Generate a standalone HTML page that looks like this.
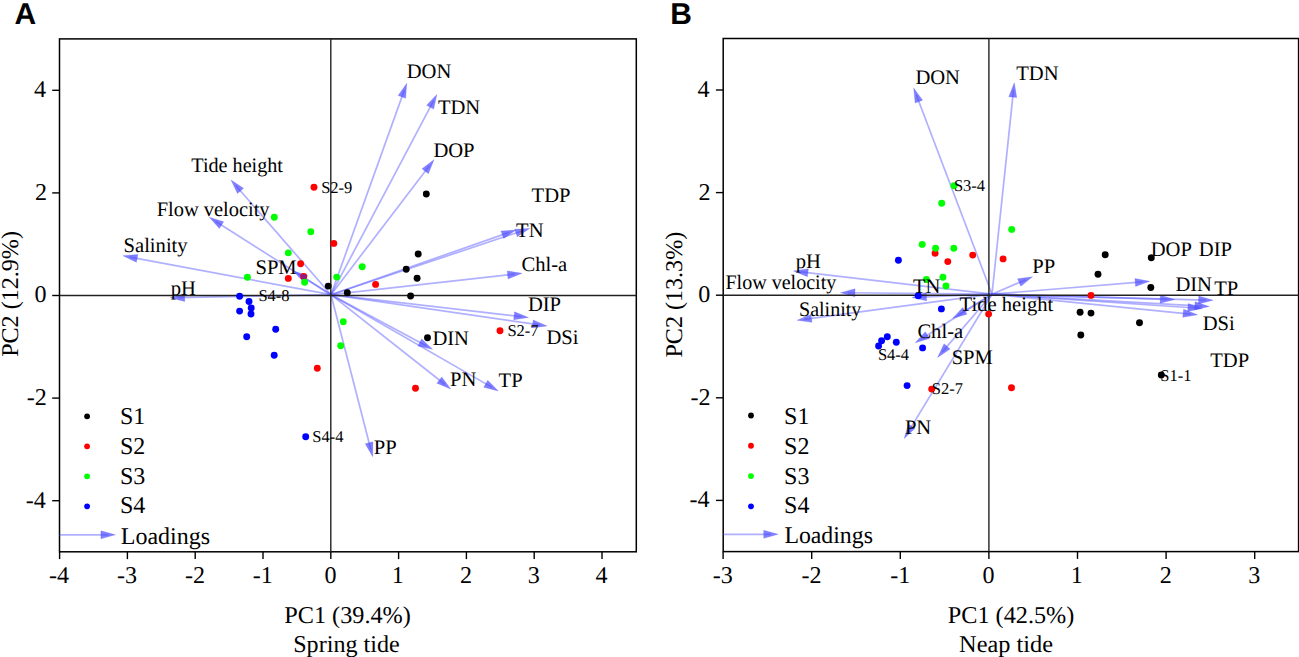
<!DOCTYPE html>
<html><head><meta charset="utf-8"><style>
html,body{margin:0;padding:0;background:#fff;width:1299px;height:657px;overflow:hidden}
svg{display:block}
text{fill:#000;text-rendering:geometricPrecision}
</style></head><body>
<svg width="1299" height="657" viewBox="0 0 1299 657">
<rect width="1299" height="657" fill="#fff"/>
<text x="14.50" y="24.00" font-size="30" font-family='"Liberation Sans", sans-serif' font-weight="bold">A</text>
<rect x="59.5" y="38.9" width="576.80" height="512.90" fill="none" stroke="#000" stroke-width="1.5"/>
<line x1="59.60" y1="551.8" x2="59.60" y2="559.10" stroke="#000" stroke-width="1.4"/>
<text x="48.90" y="582.50" font-size="24.1" font-family='"Liberation Serif", serif'>-4</text>
<line x1="127.40" y1="551.8" x2="127.40" y2="559.10" stroke="#000" stroke-width="1.4"/>
<text x="117.00" y="582.50" font-size="24.1" font-family='"Liberation Serif", serif'>-3</text>
<line x1="195.20" y1="551.8" x2="195.20" y2="559.10" stroke="#000" stroke-width="1.4"/>
<text x="184.98" y="582.50" font-size="24.1" font-family='"Liberation Serif", serif'>-2</text>
<line x1="263.00" y1="551.8" x2="263.00" y2="559.10" stroke="#000" stroke-width="1.4"/>
<text x="252.84" y="582.50" font-size="24.1" font-family='"Liberation Serif", serif'>-1</text>
<line x1="330.80" y1="551.8" x2="330.80" y2="559.10" stroke="#000" stroke-width="1.4"/>
<text x="324.38" y="582.50" font-size="24.1" font-family='"Liberation Serif", serif'>0</text>
<line x1="398.60" y1="551.8" x2="398.60" y2="559.10" stroke="#000" stroke-width="1.4"/>
<text x="391.87" y="582.50" font-size="24.1" font-family='"Liberation Serif", serif'>1</text>
<line x1="466.40" y1="551.8" x2="466.40" y2="559.10" stroke="#000" stroke-width="1.4"/>
<text x="460.10" y="582.50" font-size="24.1" font-family='"Liberation Serif", serif'>2</text>
<line x1="534.20" y1="551.8" x2="534.20" y2="559.10" stroke="#000" stroke-width="1.4"/>
<text x="527.71" y="582.50" font-size="24.1" font-family='"Liberation Serif", serif'>3</text>
<line x1="602.00" y1="551.8" x2="602.00" y2="559.10" stroke="#000" stroke-width="1.4"/>
<text x="595.51" y="582.50" font-size="24.1" font-family='"Liberation Serif", serif'>4</text>
<line x1="52.20" y1="90.30" x2="59.5" y2="90.30" stroke="#000" stroke-width="1.4"/>
<text x="33.91" y="97.20" font-size="24.1" font-family='"Liberation Serif", serif'>4</text>
<line x1="52.20" y1="192.90" x2="59.5" y2="192.90" stroke="#000" stroke-width="1.4"/>
<text x="34.88" y="199.80" font-size="24.1" font-family='"Liberation Serif", serif'>2</text>
<line x1="52.20" y1="295.50" x2="59.5" y2="295.50" stroke="#000" stroke-width="1.4"/>
<text x="34.51" y="302.40" font-size="24.1" font-family='"Liberation Serif", serif'>0</text>
<line x1="52.20" y1="398.10" x2="59.5" y2="398.10" stroke="#000" stroke-width="1.4"/>
<text x="26.80" y="405.00" font-size="24.1" font-family='"Liberation Serif", serif'>-2</text>
<line x1="52.20" y1="500.70" x2="59.5" y2="500.70" stroke="#000" stroke-width="1.4"/>
<text x="25.84" y="507.60" font-size="24.1" font-family='"Liberation Serif", serif'>-4</text>
<line x1="331.00" y1="294.70" x2="404.35" y2="90.12" stroke="#5a5aff" stroke-opacity="0.48" stroke-width="1.7"/>
<polygon points="406.80,83.30 405.67,98.30 398.14,95.60" fill="#4646ff" fill-opacity="0.68" stroke="#4646ff" stroke-opacity="0.35" stroke-width="0.6" stroke-linejoin="round" stroke-linejoin="miter"/>
<line x1="331.00" y1="294.70" x2="433.51" y2="100.81" stroke="#5a5aff" stroke-opacity="0.48" stroke-width="1.7"/>
<polygon points="436.90,94.40 433.66,109.09 426.59,105.35" fill="#4646ff" fill-opacity="0.68" stroke="#4646ff" stroke-opacity="0.35" stroke-width="0.6" stroke-linejoin="round" stroke-linejoin="miter"/>
<line x1="331.00" y1="294.70" x2="429.60" y2="165.46" stroke="#5a5aff" stroke-opacity="0.48" stroke-width="1.7"/>
<polygon points="434.00,159.70 428.38,173.65 422.02,168.80" fill="#4646ff" fill-opacity="0.68" stroke="#4646ff" stroke-opacity="0.35" stroke-width="0.6" stroke-linejoin="round" stroke-linejoin="miter"/>
<line x1="331.00" y1="294.70" x2="522.82" y2="230.69" stroke="#5a5aff" stroke-opacity="0.48" stroke-width="1.7"/>
<polygon points="529.70,228.40 517.21,236.78 514.68,229.20" fill="#4646ff" fill-opacity="0.68" stroke="#4646ff" stroke-opacity="0.35" stroke-width="0.6" stroke-linejoin="round" stroke-linejoin="miter"/>
<line x1="331.00" y1="294.70" x2="509.16" y2="232.39" stroke="#5a5aff" stroke-opacity="0.48" stroke-width="1.7"/>
<polygon points="516.00,230.00 503.63,238.56 500.99,231.01" fill="#4646ff" fill-opacity="0.68" stroke="#4646ff" stroke-opacity="0.35" stroke-width="0.6" stroke-linejoin="round" stroke-linejoin="miter"/>
<line x1="331.00" y1="294.70" x2="514.80" y2="274.11" stroke="#5a5aff" stroke-opacity="0.48" stroke-width="1.7"/>
<polygon points="522.00,273.30 508.04,278.89 507.14,270.94" fill="#4646ff" fill-opacity="0.68" stroke="#4646ff" stroke-opacity="0.35" stroke-width="0.6" stroke-linejoin="round" stroke-linejoin="miter"/>
<line x1="331.00" y1="294.70" x2="521.30" y2="316.67" stroke="#5a5aff" stroke-opacity="0.48" stroke-width="1.7"/>
<polygon points="528.50,317.50 513.64,319.81 514.55,311.86" fill="#4646ff" fill-opacity="0.68" stroke="#4646ff" stroke-opacity="0.35" stroke-width="0.6" stroke-linejoin="round" stroke-linejoin="miter"/>
<line x1="331.00" y1="294.70" x2="539.82" y2="324.96" stroke="#5a5aff" stroke-opacity="0.48" stroke-width="1.7"/>
<polygon points="547.00,326.00 532.08,327.88 533.22,319.96" fill="#4646ff" fill-opacity="0.68" stroke="#4646ff" stroke-opacity="0.35" stroke-width="0.6" stroke-linejoin="round" stroke-linejoin="miter"/>
<line x1="331.00" y1="294.70" x2="426.12" y2="345.87" stroke="#5a5aff" stroke-opacity="0.48" stroke-width="1.7"/>
<polygon points="432.50,349.30 417.84,345.95 421.63,338.91" fill="#4646ff" fill-opacity="0.68" stroke="#4646ff" stroke-opacity="0.35" stroke-width="0.6" stroke-linejoin="round" stroke-linejoin="miter"/>
<line x1="331.00" y1="294.70" x2="445.00" y2="384.51" stroke="#5a5aff" stroke-opacity="0.48" stroke-width="1.7"/>
<polygon points="450.70,389.00 436.83,383.17 441.79,376.88" fill="#4646ff" fill-opacity="0.68" stroke="#4646ff" stroke-opacity="0.35" stroke-width="0.6" stroke-linejoin="round" stroke-linejoin="miter"/>
<line x1="331.00" y1="294.70" x2="492.02" y2="387.38" stroke="#5a5aff" stroke-opacity="0.48" stroke-width="1.7"/>
<polygon points="498.30,391.00 483.74,387.23 487.73,380.30" fill="#4646ff" fill-opacity="0.68" stroke="#4646ff" stroke-opacity="0.35" stroke-width="0.6" stroke-linejoin="round" stroke-linejoin="miter"/>
<line x1="331.00" y1="294.70" x2="370.89" y2="449.68" stroke="#5a5aff" stroke-opacity="0.48" stroke-width="1.7"/>
<polygon points="372.70,456.70 365.21,443.65 372.96,441.66" fill="#4646ff" fill-opacity="0.68" stroke="#4646ff" stroke-opacity="0.35" stroke-width="0.6" stroke-linejoin="round" stroke-linejoin="miter"/>
<line x1="331.00" y1="294.70" x2="235.76" y2="185.46" stroke="#5a5aff" stroke-opacity="0.48" stroke-width="1.7"/>
<polygon points="231.00,180.00 243.54,188.30 237.51,193.56" fill="#4646ff" fill-opacity="0.68" stroke="#4646ff" stroke-opacity="0.35" stroke-width="0.6" stroke-linejoin="round" stroke-linejoin="miter"/>
<line x1="331.00" y1="294.70" x2="215.42" y2="221.19" stroke="#5a5aff" stroke-opacity="0.48" stroke-width="1.7"/>
<polygon points="209.30,217.30 223.68,221.71 219.39,228.46" fill="#4646ff" fill-opacity="0.68" stroke="#4646ff" stroke-opacity="0.35" stroke-width="0.6" stroke-linejoin="round" stroke-linejoin="miter"/>
<line x1="331.00" y1="294.70" x2="130.03" y2="257.04" stroke="#5a5aff" stroke-opacity="0.48" stroke-width="1.7"/>
<polygon points="122.90,255.70 137.89,254.44 136.42,262.30" fill="#4646ff" fill-opacity="0.68" stroke="#4646ff" stroke-opacity="0.35" stroke-width="0.6" stroke-linejoin="round" stroke-linejoin="miter"/>
<line x1="331.00" y1="294.70" x2="299.43" y2="274.77" stroke="#5a5aff" stroke-opacity="0.48" stroke-width="1.7"/>
<polygon points="293.30,270.90 307.70,275.26 303.43,282.02" fill="#4646ff" fill-opacity="0.68" stroke="#4646ff" stroke-opacity="0.35" stroke-width="0.6" stroke-linejoin="round" stroke-linejoin="miter"/>
<line x1="331.00" y1="294.70" x2="177.45" y2="297.56" stroke="#5a5aff" stroke-opacity="0.48" stroke-width="1.7"/>
<polygon points="170.20,297.70 184.62,293.43 184.77,301.43" fill="#4646ff" fill-opacity="0.68" stroke="#4646ff" stroke-opacity="0.35" stroke-width="0.6" stroke-linejoin="round" stroke-linejoin="miter"/>
<line x1="330.8" y1="38.9" x2="330.8" y2="551.8" stroke="#222" stroke-width="1.4"/>
<line x1="59.5" y1="295.5" x2="636.3" y2="295.5" stroke="#222" stroke-width="1.4"/>
<circle cx="426.3" cy="194" r="3.45" fill="#000"/>
<circle cx="418.2" cy="254" r="3.45" fill="#000"/>
<circle cx="406.2" cy="269.3" r="3.45" fill="#000"/>
<circle cx="417.1" cy="278.2" r="3.45" fill="#000"/>
<circle cx="328.2" cy="286.1" r="3.45" fill="#000"/>
<circle cx="347.3" cy="292.7" r="3.45" fill="#000"/>
<circle cx="410.6" cy="296" r="3.45" fill="#000"/>
<circle cx="427.5" cy="337.7" r="3.45" fill="#000"/>
<circle cx="314" cy="187.3" r="3.45" fill="#f00"/>
<circle cx="333.8" cy="243.4" r="3.45" fill="#f00"/>
<circle cx="300.6" cy="263.8" r="3.45" fill="#f00"/>
<circle cx="288.3" cy="278.4" r="3.45" fill="#f00"/>
<circle cx="303.7" cy="276.5" r="3.45" fill="#f00"/>
<circle cx="375.6" cy="284.4" r="3.45" fill="#f00"/>
<circle cx="500" cy="330.7" r="3.45" fill="#f00"/>
<circle cx="317.3" cy="368.3" r="3.45" fill="#f00"/>
<circle cx="415.5" cy="388.3" r="3.45" fill="#f00"/>
<circle cx="274.3" cy="217.2" r="3.45" fill="#0f0"/>
<circle cx="310.8" cy="231.7" r="3.45" fill="#0f0"/>
<circle cx="288.3" cy="252.9" r="3.45" fill="#0f0"/>
<circle cx="247.4" cy="277.3" r="3.45" fill="#0f0"/>
<circle cx="304.6" cy="282.2" r="3.45" fill="#0f0"/>
<circle cx="336.7" cy="277.1" r="3.45" fill="#0f0"/>
<circle cx="362.2" cy="266.7" r="3.45" fill="#0f0"/>
<circle cx="343.3" cy="321.7" r="3.45" fill="#0f0"/>
<circle cx="340.7" cy="345.7" r="3.45" fill="#0f0"/>
<circle cx="303.7" cy="276.5" r="2.6" fill="#3030ff" fill-opacity="0.55"/>
<circle cx="239.6" cy="296.2" r="3.45" fill="#00f"/>
<circle cx="249" cy="301.5" r="3.45" fill="#00f"/>
<circle cx="239.6" cy="311.1" r="3.45" fill="#00f"/>
<circle cx="251.2" cy="308" r="3.45" fill="#00f"/>
<circle cx="251" cy="314" r="3.45" fill="#00f"/>
<circle cx="275.7" cy="329.3" r="3.45" fill="#00f"/>
<circle cx="246.7" cy="336.7" r="3.45" fill="#00f"/>
<circle cx="274.2" cy="355.2" r="3.45" fill="#00f"/>
<circle cx="305.7" cy="436.7" r="3.45" fill="#00f"/>
<text x="406.68" y="78.00" font-size="20.6" font-family='"Liberation Serif", serif'>DON</text>
<text x="437.89" y="114.00" font-size="20.6" font-family='"Liberation Serif", serif'>TDN</text>
<text x="433.38" y="157.00" font-size="20.6" font-family='"Liberation Serif", serif'>DOP</text>
<text x="531.59" y="201.70" font-size="20.6" font-family='"Liberation Serif", serif'>TDP</text>
<text x="516.09" y="236.70" font-size="20.6" font-family='"Liberation Serif", serif'>TN</text>
<text x="521.48" y="270.70" font-size="20.6" font-family='"Liberation Serif", serif'>Chl-a</text>
<text x="527.88" y="310.50" font-size="20.6" font-family='"Liberation Serif", serif'>DIP</text>
<text x="546.38" y="344.00" font-size="20.6" font-family='"Liberation Serif", serif'>DSi</text>
<text x="432.38" y="345.00" font-size="20.6" font-family='"Liberation Serif", serif'>DIN</text>
<text x="450.08" y="385.70" font-size="20.6" font-family='"Liberation Serif", serif'>PN</text>
<text x="498.59" y="387.30" font-size="20.6" font-family='"Liberation Serif", serif'>TP</text>
<text x="373.68" y="454.00" font-size="20.6" font-family='"Liberation Serif", serif'>PP</text>
<text transform="translate(191.70,172.30) scale(0.9785,1)" x="-0.41" y="0" font-size="20.6" font-family='"Liberation Serif", serif'>Tide height</text>
<text transform="translate(157.30,216.00) scale(0.9911,1)" x="-0.62" y="0" font-size="20.6" font-family='"Liberation Serif", serif'>Flow velocity</text>
<text x="123.56" y="251.90" font-size="20.6" font-family='"Liberation Serif", serif'>Salinity</text>
<text x="255.46" y="273.70" font-size="20.6" font-family='"Liberation Serif", serif'>SPM</text>
<text x="170.79" y="294.50" font-size="20.6" font-family='"Liberation Serif", serif'>pH</text>
<text x="321.13" y="192.70" font-size="16.5" font-family='"Liberation Serif", serif'>S2-9</text>
<text x="258.43" y="300.90" font-size="16.5" font-family='"Liberation Serif", serif'>S4-8</text>
<text x="507.43" y="335.70" font-size="16.5" font-family='"Liberation Serif", serif'>S2-7</text>
<text x="312.23" y="441.70" font-size="16.5" font-family='"Liberation Serif", serif'>S4-4</text>
<circle cx="87.1" cy="416.30" r="2.9" fill="#000"/>
<text x="119.94" y="423.80" font-size="24" font-family='"Liberation Serif", serif'>S1</text>
<circle cx="87.1" cy="446.30" r="2.9" fill="#f00"/>
<text x="119.94" y="453.65" font-size="24" font-family='"Liberation Serif", serif'>S2</text>
<circle cx="87.1" cy="476.30" r="2.9" fill="#0f0"/>
<text x="119.94" y="483.50" font-size="24" font-family='"Liberation Serif", serif'>S3</text>
<circle cx="87.1" cy="506.30" r="2.9" fill="#00f"/>
<text x="119.94" y="513.35" font-size="24" font-family='"Liberation Serif", serif'>S4</text>
<line x1="59.50" y1="534.80" x2="108.15" y2="534.80" stroke="#5a5aff" stroke-opacity="0.48" stroke-width="1.7"/>
<polygon points="115.40,534.80 100.90,538.80 100.90,530.80" fill="#4646ff" fill-opacity="0.68" stroke="#4646ff" stroke-opacity="0.35" stroke-width="0.6" stroke-linejoin="round" stroke-linejoin="miter"/>
<text x="120.78" y="543.70" font-size="24" font-family='"Liberation Serif", serif'>Loadings</text>
<text transform="translate(285.00,622.70) scale(1.0056,1)" x="-0.72" y="0" font-size="24.1" font-family='"Liberation Serif", serif'>PC1 (39.4%)</text>
<text x="293.23" y="652.40" font-size="24.1" font-family='"Liberation Serif", serif'>Spring tide</text>
<g transform="translate(17.5,294.1) rotate(-90)">
<text x="-62.78" y="0.00" font-size="24.1" font-family='"Liberation Serif", serif'>PC2 (12.9%)</text>
</g>
<text x="670.25" y="24.20" font-size="30" font-family='"Liberation Sans", sans-serif' font-weight="bold">B</text>
<rect x="723.2" y="38.5" width="575.40" height="513.10" fill="none" stroke="#000" stroke-width="1.5"/>
<line x1="723.10" y1="551.6" x2="723.10" y2="558.90" stroke="#000" stroke-width="1.4"/>
<text x="712.70" y="582.50" font-size="24.1" font-family='"Liberation Serif", serif'>-3</text>
<line x1="811.70" y1="551.6" x2="811.70" y2="558.90" stroke="#000" stroke-width="1.4"/>
<text x="801.48" y="582.50" font-size="24.1" font-family='"Liberation Serif", serif'>-2</text>
<line x1="900.30" y1="551.6" x2="900.30" y2="558.90" stroke="#000" stroke-width="1.4"/>
<text x="890.14" y="582.50" font-size="24.1" font-family='"Liberation Serif", serif'>-1</text>
<line x1="988.90" y1="551.6" x2="988.90" y2="558.90" stroke="#000" stroke-width="1.4"/>
<text x="982.48" y="582.50" font-size="24.1" font-family='"Liberation Serif", serif'>0</text>
<line x1="1077.50" y1="551.6" x2="1077.50" y2="558.90" stroke="#000" stroke-width="1.4"/>
<text x="1070.77" y="582.50" font-size="24.1" font-family='"Liberation Serif", serif'>1</text>
<line x1="1166.10" y1="551.6" x2="1166.10" y2="558.90" stroke="#000" stroke-width="1.4"/>
<text x="1159.80" y="582.50" font-size="24.1" font-family='"Liberation Serif", serif'>2</text>
<line x1="1254.70" y1="551.6" x2="1254.70" y2="558.90" stroke="#000" stroke-width="1.4"/>
<text x="1248.21" y="582.50" font-size="24.1" font-family='"Liberation Serif", serif'>3</text>
<line x1="715.90" y1="90.00" x2="723.2" y2="90.00" stroke="#000" stroke-width="1.4"/>
<text x="697.61" y="96.90" font-size="24.1" font-family='"Liberation Serif", serif'>4</text>
<line x1="715.90" y1="192.60" x2="723.2" y2="192.60" stroke="#000" stroke-width="1.4"/>
<text x="698.58" y="199.50" font-size="24.1" font-family='"Liberation Serif", serif'>2</text>
<line x1="715.90" y1="295.20" x2="723.2" y2="295.20" stroke="#000" stroke-width="1.4"/>
<text x="698.21" y="302.10" font-size="24.1" font-family='"Liberation Serif", serif'>0</text>
<line x1="715.90" y1="397.80" x2="723.2" y2="397.80" stroke="#000" stroke-width="1.4"/>
<text x="690.50" y="404.70" font-size="24.1" font-family='"Liberation Serif", serif'>-2</text>
<line x1="715.90" y1="500.40" x2="723.2" y2="500.40" stroke="#000" stroke-width="1.4"/>
<text x="689.54" y="507.30" font-size="24.1" font-family='"Liberation Serif", serif'>-4</text>
<line x1="992.00" y1="294.20" x2="916.27" y2="94.78" stroke="#5a5aff" stroke-opacity="0.48" stroke-width="1.7"/>
<polygon points="913.70,88.00 922.59,100.14 915.11,102.98" fill="#4646ff" fill-opacity="0.68" stroke="#4646ff" stroke-opacity="0.35" stroke-width="0.6" stroke-linejoin="round" stroke-linejoin="miter"/>
<line x1="992.00" y1="294.20" x2="1013.54" y2="89.91" stroke="#5a5aff" stroke-opacity="0.48" stroke-width="1.7"/>
<polygon points="1014.30,82.70 1016.76,97.54 1008.80,96.70" fill="#4646ff" fill-opacity="0.68" stroke="#4646ff" stroke-opacity="0.35" stroke-width="0.6" stroke-linejoin="round" stroke-linejoin="miter"/>
<line x1="992.00" y1="294.20" x2="800.70" y2="271.84" stroke="#5a5aff" stroke-opacity="0.48" stroke-width="1.7"/>
<polygon points="793.50,271.00 808.37,268.71 807.44,276.66" fill="#4646ff" fill-opacity="0.68" stroke="#4646ff" stroke-opacity="0.35" stroke-width="0.6" stroke-linejoin="round" stroke-linejoin="miter"/>
<line x1="992.00" y1="294.20" x2="847.75" y2="292.77" stroke="#5a5aff" stroke-opacity="0.48" stroke-width="1.7"/>
<polygon points="840.50,292.70 855.04,288.84 854.96,296.84" fill="#4646ff" fill-opacity="0.68" stroke="#4646ff" stroke-opacity="0.35" stroke-width="0.6" stroke-linejoin="round" stroke-linejoin="miter"/>
<line x1="992.00" y1="294.20" x2="804.29" y2="319.34" stroke="#5a5aff" stroke-opacity="0.48" stroke-width="1.7"/>
<polygon points="797.10,320.30 810.94,314.41 812.00,322.34" fill="#4646ff" fill-opacity="0.68" stroke="#4646ff" stroke-opacity="0.35" stroke-width="0.6" stroke-linejoin="round" stroke-linejoin="miter"/>
<line x1="992.00" y1="294.20" x2="919.24" y2="297.11" stroke="#5a5aff" stroke-opacity="0.48" stroke-width="1.7"/>
<polygon points="912.00,297.40 926.33,292.82 926.65,300.82" fill="#4646ff" fill-opacity="0.68" stroke="#4646ff" stroke-opacity="0.35" stroke-width="0.6" stroke-linejoin="round" stroke-linejoin="miter"/>
<line x1="992.00" y1="294.20" x2="958.68" y2="314.61" stroke="#5a5aff" stroke-opacity="0.48" stroke-width="1.7"/>
<polygon points="952.50,318.40 962.77,307.41 966.95,314.24" fill="#4646ff" fill-opacity="0.68" stroke="#4646ff" stroke-opacity="0.35" stroke-width="0.6" stroke-linejoin="round" stroke-linejoin="miter"/>
<line x1="992.00" y1="294.20" x2="921.33" y2="338.92" stroke="#5a5aff" stroke-opacity="0.48" stroke-width="1.7"/>
<polygon points="915.20,342.80 925.31,331.67 929.59,338.43" fill="#4646ff" fill-opacity="0.68" stroke="#4646ff" stroke-opacity="0.35" stroke-width="0.6" stroke-linejoin="round" stroke-linejoin="miter"/>
<line x1="992.00" y1="294.20" x2="942.33" y2="351.91" stroke="#5a5aff" stroke-opacity="0.48" stroke-width="1.7"/>
<polygon points="937.60,357.40 944.03,343.80 950.09,349.02" fill="#4646ff" fill-opacity="0.68" stroke="#4646ff" stroke-opacity="0.35" stroke-width="0.6" stroke-linejoin="round" stroke-linejoin="miter"/>
<line x1="992.00" y1="294.20" x2="907.97" y2="432.41" stroke="#5a5aff" stroke-opacity="0.48" stroke-width="1.7"/>
<polygon points="904.20,438.60 908.32,424.13 915.15,428.29" fill="#4646ff" fill-opacity="0.68" stroke="#4646ff" stroke-opacity="0.35" stroke-width="0.6" stroke-linejoin="round" stroke-linejoin="miter"/>
<line x1="992.00" y1="294.20" x2="1025.84" y2="279.66" stroke="#5a5aff" stroke-opacity="0.48" stroke-width="1.7"/>
<polygon points="1032.50,276.80 1020.76,286.20 1017.60,278.85" fill="#4646ff" fill-opacity="0.68" stroke="#4646ff" stroke-opacity="0.35" stroke-width="0.6" stroke-linejoin="round" stroke-linejoin="miter"/>
<line x1="992.00" y1="294.20" x2="1142.47" y2="281.89" stroke="#5a5aff" stroke-opacity="0.48" stroke-width="1.7"/>
<polygon points="1149.70,281.30 1135.57,286.47 1134.92,278.50" fill="#4646ff" fill-opacity="0.68" stroke="#4646ff" stroke-opacity="0.35" stroke-width="0.6" stroke-linejoin="round" stroke-linejoin="miter"/>
<line x1="992.00" y1="294.20" x2="1167.45" y2="299.39" stroke="#5a5aff" stroke-opacity="0.48" stroke-width="1.7"/>
<polygon points="1174.70,299.60 1160.09,303.17 1160.32,295.17" fill="#4646ff" fill-opacity="0.68" stroke="#4646ff" stroke-opacity="0.35" stroke-width="0.6" stroke-linejoin="round" stroke-linejoin="miter"/>
<line x1="992.00" y1="294.20" x2="1205.85" y2="300.10" stroke="#5a5aff" stroke-opacity="0.48" stroke-width="1.7"/>
<polygon points="1213.10,300.30 1198.50,303.90 1198.72,295.90" fill="#4646ff" fill-opacity="0.68" stroke="#4646ff" stroke-opacity="0.35" stroke-width="0.6" stroke-linejoin="round" stroke-linejoin="miter"/>
<line x1="992.00" y1="294.20" x2="1202.06" y2="306.09" stroke="#5a5aff" stroke-opacity="0.48" stroke-width="1.7"/>
<polygon points="1209.30,306.50 1194.60,309.67 1195.05,301.69" fill="#4646ff" fill-opacity="0.68" stroke="#4646ff" stroke-opacity="0.35" stroke-width="0.6" stroke-linejoin="round" stroke-linejoin="miter"/>
<line x1="992.00" y1="294.20" x2="1195.17" y2="308.01" stroke="#5a5aff" stroke-opacity="0.48" stroke-width="1.7"/>
<polygon points="1202.40,308.50 1187.66,311.51 1188.20,303.53" fill="#4646ff" fill-opacity="0.68" stroke="#4646ff" stroke-opacity="0.35" stroke-width="0.6" stroke-linejoin="round" stroke-linejoin="miter"/>
<line x1="992.00" y1="294.20" x2="1190.39" y2="314.08" stroke="#5a5aff" stroke-opacity="0.48" stroke-width="1.7"/>
<polygon points="1197.60,314.80 1182.77,317.33 1183.57,309.37" fill="#4646ff" fill-opacity="0.68" stroke="#4646ff" stroke-opacity="0.35" stroke-width="0.6" stroke-linejoin="round" stroke-linejoin="miter"/>
<line x1="988.9" y1="38.5" x2="988.9" y2="551.6" stroke="#222" stroke-width="1.4"/>
<line x1="723.2" y1="295.2" x2="1298.6" y2="295.2" stroke="#222" stroke-width="1.4"/>
<circle cx="1105.2" cy="254.8" r="3.45" fill="#000"/>
<circle cx="1151.3" cy="257.8" r="3.45" fill="#000"/>
<circle cx="1098" cy="274.3" r="3.45" fill="#000"/>
<circle cx="1150.8" cy="287.5" r="3.45" fill="#000"/>
<circle cx="1080.1" cy="312.2" r="3.45" fill="#000"/>
<circle cx="1091" cy="313.1" r="3.45" fill="#000"/>
<circle cx="1139.5" cy="322.8" r="3.45" fill="#000"/>
<circle cx="1080.8" cy="335" r="3.45" fill="#000"/>
<circle cx="1161.3" cy="375" r="3.45" fill="#000"/>
<circle cx="972.7" cy="255.1" r="3.45" fill="#f00"/>
<circle cx="1003.1" cy="258.9" r="3.45" fill="#f00"/>
<circle cx="935.1" cy="253.3" r="3.45" fill="#f00"/>
<circle cx="947.8" cy="261.6" r="3.45" fill="#f00"/>
<circle cx="988.6" cy="314.1" r="3.45" fill="#f00"/>
<circle cx="1091" cy="295.4" r="3.45" fill="#f00"/>
<circle cx="931.7" cy="389.1" r="3.45" fill="#f00"/>
<circle cx="1011.5" cy="387.8" r="3.45" fill="#f00"/>
<circle cx="954" cy="185.7" r="3.45" fill="#0f0"/>
<circle cx="941.7" cy="203.3" r="3.45" fill="#0f0"/>
<circle cx="1011.7" cy="229.4" r="3.45" fill="#0f0"/>
<circle cx="922.2" cy="244.4" r="3.45" fill="#0f0"/>
<circle cx="935.6" cy="248.2" r="3.45" fill="#0f0"/>
<circle cx="953.8" cy="248.2" r="3.45" fill="#0f0"/>
<circle cx="942.9" cy="277.3" r="3.45" fill="#0f0"/>
<circle cx="926.4" cy="279.5" r="3.45" fill="#0f0"/>
<circle cx="946" cy="286" r="3.45" fill="#0f0"/>
<circle cx="898.4" cy="260.2" r="3.45" fill="#00f"/>
<circle cx="918.2" cy="295.7" r="3.45" fill="#00f"/>
<circle cx="941.4" cy="308.9" r="3.45" fill="#00f"/>
<circle cx="887.3" cy="336.7" r="3.45" fill="#00f"/>
<circle cx="881.6" cy="340.7" r="3.45" fill="#00f"/>
<circle cx="896.3" cy="342.3" r="3.45" fill="#00f"/>
<circle cx="878.6" cy="346" r="3.45" fill="#00f"/>
<circle cx="922.6" cy="347.9" r="3.45" fill="#00f"/>
<circle cx="907.1" cy="385.6" r="3.45" fill="#00f"/>
<text x="915.38" y="84.30" font-size="20.6" font-family='"Liberation Serif", serif'>DON</text>
<text x="1016.29" y="80.00" font-size="20.6" font-family='"Liberation Serif", serif'>TDN</text>
<text x="795.69" y="267.60" font-size="20.6" font-family='"Liberation Serif", serif'>pH</text>
<text transform="translate(726.00,288.50) scale(0.9735,1)" x="-0.62" y="0" font-size="20.6" font-family='"Liberation Serif", serif'>Flow velocity</text>
<text transform="translate(800.30,315.80) scale(0.9730,1)" x="-1.34" y="0" font-size="20.6" font-family='"Liberation Serif", serif'>Salinity</text>
<text x="912.89" y="292.70" font-size="20.6" font-family='"Liberation Serif", serif'>TN</text>
<text x="959.59" y="311.40" font-size="20.6" font-family='"Liberation Serif", serif'>Tide height</text>
<text x="917.38" y="337.80" font-size="20.6" font-family='"Liberation Serif", serif'>Chl-a</text>
<text x="951.66" y="364.40" font-size="20.6" font-family='"Liberation Serif", serif'>SPM</text>
<text x="904.88" y="434.20" font-size="20.6" font-family='"Liberation Serif", serif'>PN</text>
<text x="1032.28" y="273.10" font-size="20.6" font-family='"Liberation Serif", serif'>PP</text>
<text x="1150.68" y="256.30" font-size="20.6" font-family='"Liberation Serif", serif'>DOP</text>
<text x="1198.78" y="256.30" font-size="20.6" font-family='"Liberation Serif", serif'>DIP</text>
<text x="1175.38" y="290.70" font-size="20.6" font-family='"Liberation Serif", serif'>DIN</text>
<text x="1214.19" y="295.00" font-size="20.6" font-family='"Liberation Serif", serif'>TP</text>
<text x="1202.68" y="330.00" font-size="20.6" font-family='"Liberation Serif", serif'>DSi</text>
<text x="1210.29" y="366.80" font-size="20.6" font-family='"Liberation Serif", serif'>TDP</text>
<text x="953.93" y="191.00" font-size="16.5" font-family='"Liberation Serif", serif'>S3-4</text>
<text x="877.93" y="360.00" font-size="16.5" font-family='"Liberation Serif", serif'>S4-4</text>
<text x="931.83" y="394.30" font-size="16.5" font-family='"Liberation Serif", serif'>S2-7</text>
<text x="1160.23" y="381.10" font-size="16.5" font-family='"Liberation Serif", serif'>S1-1</text>
<circle cx="751" cy="415.50" r="2.9" fill="#000"/>
<text x="784.04" y="423.80" font-size="24" font-family='"Liberation Serif", serif'>S1</text>
<circle cx="751" cy="445.77" r="2.9" fill="#f00"/>
<text x="784.04" y="453.65" font-size="24" font-family='"Liberation Serif", serif'>S2</text>
<circle cx="751" cy="476.04" r="2.9" fill="#0f0"/>
<text x="784.04" y="483.50" font-size="24" font-family='"Liberation Serif", serif'>S3</text>
<circle cx="751" cy="506.31" r="2.9" fill="#00f"/>
<text x="784.04" y="513.35" font-size="24" font-family='"Liberation Serif", serif'>S4</text>
<line x1="723.20" y1="534.30" x2="770.95" y2="534.30" stroke="#5a5aff" stroke-opacity="0.48" stroke-width="1.7"/>
<polygon points="778.20,534.30 763.70,538.30 763.70,530.30" fill="#4646ff" fill-opacity="0.68" stroke="#4646ff" stroke-opacity="0.35" stroke-width="0.6" stroke-linejoin="round" stroke-linejoin="miter"/>
<text transform="translate(785.10,543.20) scale(0.9909,1)" x="-0.72" y="0" font-size="24" font-family='"Liberation Serif", serif'>Loadings</text>
<text transform="translate(948.50,622.70) scale(1.0056,1)" x="-0.72" y="0" font-size="24.1" font-family='"Liberation Serif", serif'>PC1 (42.5%)</text>
<text transform="translate(959.80,652.40) scale(1.0110,1)" x="-0.72" y="0" font-size="24.1" font-family='"Liberation Serif", serif'>Neap tide</text>
<g transform="translate(681.7,294.8) rotate(-90)">
<text x="-62.78" y="0.00" font-size="24.1" font-family='"Liberation Serif", serif'>PC2 (13.3%)</text>
</g>
</svg>
</body></html>
